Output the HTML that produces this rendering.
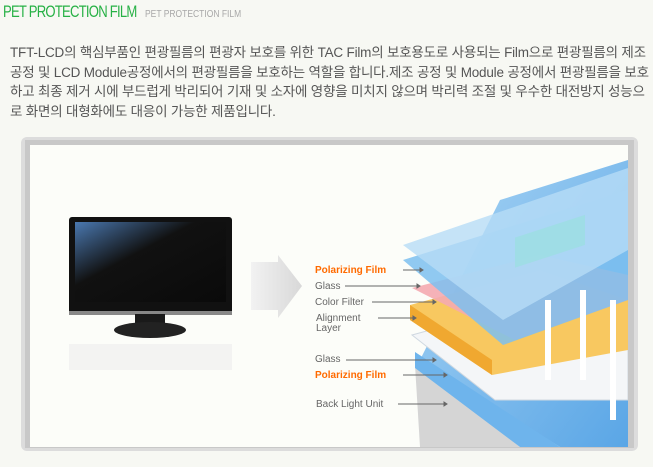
<!DOCTYPE html>
<html><head><meta charset="utf-8"><style>
body{margin:0;width:653px;height:467px;background:#f7f8f3;overflow:hidden;position:relative;font-family:"Liberation Sans","Noto Sans CJK KR",sans-serif}
.t1{position:absolute;left:3px;top:2px;font-size:17px;color:#27b145;letter-spacing:-1px;white-space:nowrap;transform:scaleX(0.77);transform-origin:left}
.t2{position:absolute;left:145px;top:9px;font-size:10px;color:#a8a8a8;white-space:nowrap;transform:scaleX(0.85);transform-origin:left}
.body{position:absolute;left:10px;top:43px;width:660px;font-size:13.5px;line-height:19.5px;color:#555;letter-spacing:-0.2px;white-space:nowrap}
</style></head><body>
<div class="t1">PET PROTECTION FILM</div>
<div class="t2">PET PROTECTION FILM</div>
<div class="body">TFT-LCD의 핵심부품인 편광필름의 편광자 보호를 위한 TAC Film의 보호용도로 사용되는 Film으로 편광필름의 제조<br>공정 및 LCD Module공정에서의 편광필름을 보호하는 역할을 합니다.제조 공정 및 Module 공정에서 편광필름을 보호<br>하고 최종 제거 시에 부드럽게 박리되어 기재 및 소자에 영향을 미치지 않으며 박리력 조절 및 우수한 대전방지 성능으<br>로 화면의 대형화에도 대응이 가능한 제품입니다.</div>
<svg width="653" height="467" style="position:absolute;left:0;top:0" font-family="Liberation Sans, sans-serif">
<defs>
<linearGradient id="sc" x1="0" y1="0" x2="1" y2="1"><stop offset="0" stop-color="#4a78b0"/><stop offset="0.4" stop-color="#111"/><stop offset="1" stop-color="#0a0a0a"/></linearGradient>
<linearGradient id="ar" x1="0" x2="1"><stop offset="0" stop-color="#f2f2f2"/><stop offset="1" stop-color="#d8d8d8"/></linearGradient>
<linearGradient id="bl" x1="0" y1="0" x2="1" y2="1"><stop offset="0" stop-color="#a8d4f4"/><stop offset="1" stop-color="#5aa6e6"/></linearGradient>
<clipPath id="cp"><rect x="30" y="145" width="598" height="302"/></clipPath>
</defs>
<rect x="21" y="137" width="617" height="314" rx="6" fill="#dcdcdc"/>
<rect x="25" y="140" width="609" height="308" fill="#c8c8c8"/>
<rect x="30" y="145" width="598" height="302" fill="#fcfdf9"/>
<rect x="69" y="217" width="163" height="97" rx="3" fill="#111"/>
<rect x="75" y="222" width="151" height="80" fill="url(#sc)"/>
<rect x="69" y="311" width="163" height="4" fill="#888"/>
<rect x="135" y="314" width="30" height="12" fill="#1a1a1a"/>
<ellipse cx="150" cy="330" rx="36" ry="8" fill="#222"/>
<rect x="69" y="344" width="163" height="26" fill="#f0f0f0" opacity="0.8"/>
<polygon points="251,262 278,262 278,255 302,286 278,318 278,310 251,310" fill="url(#ar)"/>
<g clip-path="url(#cp)">
<polygon points="500,200 628,160 628,447 560,447 420,360" fill="url(#bl)"/>
<polygon points="415,365 520,447 420,447" fill="#d5d5d5"/>
<polygon points="415,352 560,447 520,447 415,368" fill="#6eb4ec"/>
<polygon points="412,335 540,300 628,340 628,400 495,400" fill="#f4f6f8" stroke="#cfd8e0"/>
<polygon points="410,305 540,270 628,300 628,350 492,375 410,320" fill="#f8c860"/>
<polygon points="410,305 492,360 492,375 410,320" fill="#f0a830"/>
<polygon points="412,288 540,255 628,275 628,300 515,340" fill="#f4aab0" opacity="0.9"/>
<polygon points="403,260 628,190 628,300 503,345" fill="#7cc0f0" opacity="0.85"/>
<polygon points="403,245 628,168 628,250 503,320" fill="#b6dcf6" opacity="0.8"/>
<rect x="515" y="235" width="70" height="30" fill="#9ae0e0" opacity="0.7" transform="skewY(-18) translate(0,170)"/>
<g fill="#fff"><rect x="545" y="300" width="6" height="80"/><rect x="580" y="290" width="6" height="90"/><rect x="610" y="300" width="6" height="120"/></g>
</g>
<g font-size="10" fill="#666">
<text x="315" y="273" fill="#ff6a00" font-weight="bold">Polarizing Film</text>
<text x="315" y="289">Glass</text>
<text x="315" y="305">Color Filter</text>
<text x="316" y="321">Alignment</text>
<text x="316" y="331">Layer</text>
<text x="315" y="362">Glass</text>
<text x="315" y="378" fill="#ff6a00" font-weight="bold">Polarizing Film</text>
<text x="316" y="407">Back Light Unit</text>
</g>
<g stroke="#666" stroke-width="1" fill="#666">
<line x1="403" y1="270" x2="420" y2="270"/><polygon points="420,268 423,270 420,272"/>
<line x1="345" y1="286" x2="417" y2="286"/><polygon points="417,284 420,286 417,288"/>
<line x1="372" y1="302" x2="433" y2="302"/><polygon points="433,300 436,302 433,304"/>
<line x1="378" y1="318" x2="413" y2="318"/><polygon points="413,316 416,318 413,320"/>
<line x1="346" y1="360" x2="433" y2="360"/><polygon points="433,358 436,360 433,362"/>
<line x1="403" y1="375" x2="444" y2="375"/><polygon points="444,373 447,375 444,377"/>
<line x1="398" y1="404" x2="444" y2="404"/><polygon points="444,402 447,404 444,406"/>
</g>
</svg>
</body></html>
